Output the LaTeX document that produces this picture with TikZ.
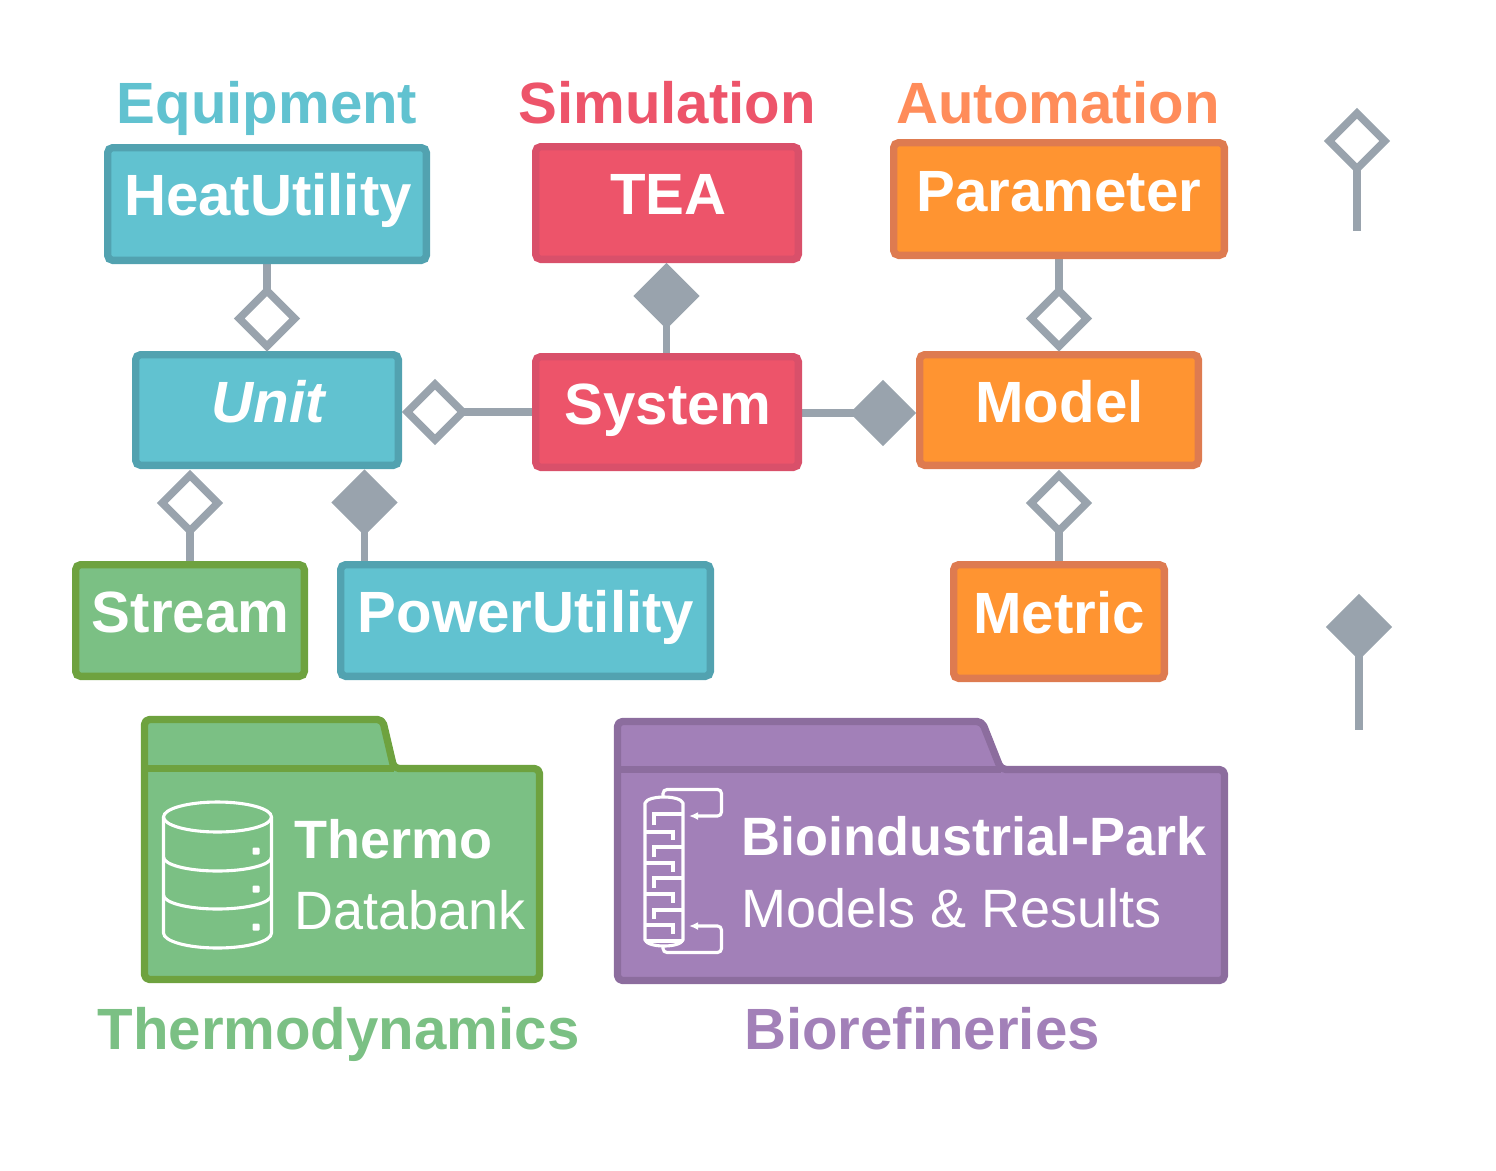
\documentclass[tikz,border=0pt]{standalone}
\usepackage{fontspec}
\setmainfont{Liberation Sans}
\usetikzlibrary{shapes.geometric,arrows.meta,backgrounds}
\definecolor{tealf}{HTML}{61C2D0}\definecolor{teald}{HTML}{52A2B0}
\definecolor{redf}{HTML}{ED546A}\definecolor{redd}{HTML}{D9506A}
\definecolor{orgf}{HTML}{FF9431}\definecolor{orgd}{HTML}{DE7B50}
\definecolor{grnf}{HTML}{7BC084}\definecolor{grnd}{HTML}{6EA23F}
\definecolor{purf}{HTML}{A280B8}\definecolor{purd}{HTML}{8C6D9E}
\definecolor{gry}{HTML}{99A3AD}
\definecolor{orgt}{HTML}{FF8C5A}
\tikzset{
 box/.style={draw,line width=7.3pt,rounded corners=5pt,inner sep=0pt,outer sep=0pt},
 tealbox/.style={box,draw=teald,fill=tealf},
 redbox/.style={box,draw=redd,fill=redf},
 orgbox/.style={box,draw=orgd,fill=orgf},
 grnbox/.style={box,draw=grnd,fill=grnf},
 opend/.style={shape=diamond,draw=gry,fill=white,line width=7.6pt,minimum width=55.5pt,minimum height=55.5pt,inner sep=0pt,outer sep=0pt,aspect=1},
 filld/.style={opend,fill=gry},
 conn/.style={draw=gry,line width=7.5pt},
 big/.style={font=\fontsize{58.2}{60}\selectfont\bfseries,anchor=base,inner sep=0pt},
 boxtext/.style={big,text=white},
 fold/.style={line width=7.3pt,line join=round,rounded corners=5pt},
 icon/.style={draw=white,line width=3.1pt},
 bold54/.style={font=\fontsize{54}{56}\selectfont\bfseries,anchor=base west,inner sep=0pt,text=white},
 reg54/.style={font=\fontsize{54}{56}\selectfont,anchor=base west,inner sep=0pt,text=white},
}
\newcommand{\bx}[6]{\node[#1,minimum width=#4pt-#3pt-7.3pt,minimum height=#6pt-#5pt-7.3pt] (#2) at ({(#3+#4)/2},{(#5+#6)/2}) {};}
\begin{document}
\begin{tikzpicture}[x=1pt,y=-1pt]
\useasboundingbox (0,0) rectangle (1496,1170);
\bx{tealbox}{heat}{104}{430}{144}{264}
\bx{redbox}{tea}{532}{802}{143}{263}
\bx{orgbox}{param}{890}{1228}{139}{259}
\bx{tealbox}{unit}{132}{402}{351}{469}
\bx{redbox}{sys}{532}{802}{353}{471}
\bx{orgbox}{model}{916}{1202}{351}{469}
\bx{grnbox}{stream}{72}{308}{561}{680}
\bx{tealbox}{power}{337}{714}{561}{680}
\bx{orgbox}{metric}{950}{1168}{561}{682}
\coordinate (l1) at (1357,231);
\coordinate (l2) at (1359,730);
\node[opend] (d1) at (267,318.5) {};
\node[filld] (d2) at (666.5,296) {};
\node[opend] (d3) at (1059,318.5) {};
\node[opend] (d4) at (435,412) {};
\node[filld] (d5) at (883,413) {};
\node[opend] (d6) at (190,503) {};
\node[filld] (d7) at (364.5,502.5) {};
\node[opend] (d8) at (1059,503) {};
\node[opend] (d9) at (1357,141) {};
\node[filld] (d10) at (1359,627) {};
\begin{pgfonlayer}{background}
\draw[conn] (heat.south) -- (d1.north);
\draw[conn] (d2.south) -- (d2.south |- sys.north);
\draw[conn] (param.south) -- (d3.north);
\draw[conn] (d4.east) -- (d4.east -| sys.west);
\draw[conn] (d5.west) -- (d5.west -| sys.east);
\draw[conn] (d6.south) -- (d6.south |- stream.north);
\draw[conn] (d7.south) -- (d7.south |- power.north);
\draw[conn] (d8.south) -- (d8.south |- metric.north);
\draw[conn] (d9.south) -- (l1);
\draw[conn] (d10.south) -- (l2);
\end{pgfonlayer}
% titles
\node[big,text=tealf] (tEq) at (267,123) {Equipment};
\node[big,text=redf] (tSim) at (667,123) {Simulation};
\node[big,text=orgt] (tAut) at (1058,123) {Automation};
\node[big,text=grnf] (tThe) at (338.5,1049) {Thermodynamics};
\node[big,text=purf] (tBio) at (922,1049) {Biorefineries};
% box text
\node[boxtext] (xheat) at (268,215) {HeatUtility};
\node[boxtext] (xtea) at (668.5,214) {TEA};
\node[boxtext] (xpar) at (1059,211) {Parameter};
\node[boxtext,font=\fontsize{58.2}{60}\selectfont\bfseries\itshape] (xunit) at (268,422) {Unit};
\node[boxtext] (xsys) at (668,424) {System};
\node[boxtext] (xmod) at (1059.5,422) {Model};
\node[boxtext] (xstr) at (190.5,632) {Stream};
\node[boxtext] (xpow) at (526,632) {PowerUtility};
\node[boxtext] (xmet) at (1059,633) {Metric};
% green folder
\draw[fold,draw=grnd,fill=grnf] (144.5,979.5) -- (144.5,719.5) -- (382.5,719.5) -- (394,768.5) -- (539.5,768.5) -- (539.5,979.5) -- cycle;
\draw[line width=7.3pt,draw=grnd] (144.5,768.5) -- (394,768.5);
% database icon
\draw[icon] (217.5,817) ellipse [x radius=54,y radius=15];
\draw[icon] (163.5,817) -- (163.5,933) arc[start angle=180,end angle=0,x radius=54,y radius=15] -- (271.5,817);
\draw[icon] (163.5,857) arc[start angle=180,end angle=0,x radius=54,y radius=14];
\draw[icon] (163.5,895) arc[start angle=180,end angle=0,x radius=54,y radius=14];
\foreach \yy in {851,889,927} \fill[white,rounded corners=1pt] (252.5,\yy-3.5) rectangle (259.5,\yy+3.5);
\node[bold54] (xth) at (294,858) {Thermo};
\node[reg54] (xdb) at (294,929) {Databank};
% purple folder
\draw[fold,draw=purd,fill=purf] (617.5,980.5) -- (617.5,721.5) -- (982,721.5) -- (1001,769.5) -- (1224.5,769.5) -- (1224.5,980.5) -- cycle;
\draw[line width=7.3pt,draw=purd] (617.5,769.5) -- (1001,769.5);
% column icon
\draw[icon,line join=round] (645,803) .. controls (648,795) and (680,795) .. (683,803) -- (683,940) .. controls (680,948) and (648,948) .. (645,940) -- cycle;
\draw[icon] (645,941) -- (683,941);
\foreach \ya/\yb in {814/825,847/857,878/888,910/919}
  \draw[icon] (654,\yb) -- (654,\ya) -- (683,\ya);
\foreach \ya/\yb in {832/840,863/872,894/903,925/934}
  \draw[icon] (645,\ya) -- (673,\ya) -- (673,\yb);
\draw[icon,rounded corners=4pt,-{Latex[length=9pt,width=8pt]}] (663,797) -- (663,789.5) -- (721.5,789.5) -- (721.5,816) -- (689,816);
\draw[icon,rounded corners=4pt,-{Latex[length=9pt,width=8pt]}] (663,945) -- (663,952.5) -- (721.5,952.5) -- (721.5,926) -- (689,926);
\node[bold54] (xbp) at (741,855) {Bioindustrial-Park};
\node[reg54] (xmr) at (741,927) {Models \& Results};
\end{tikzpicture}
\end{document}
